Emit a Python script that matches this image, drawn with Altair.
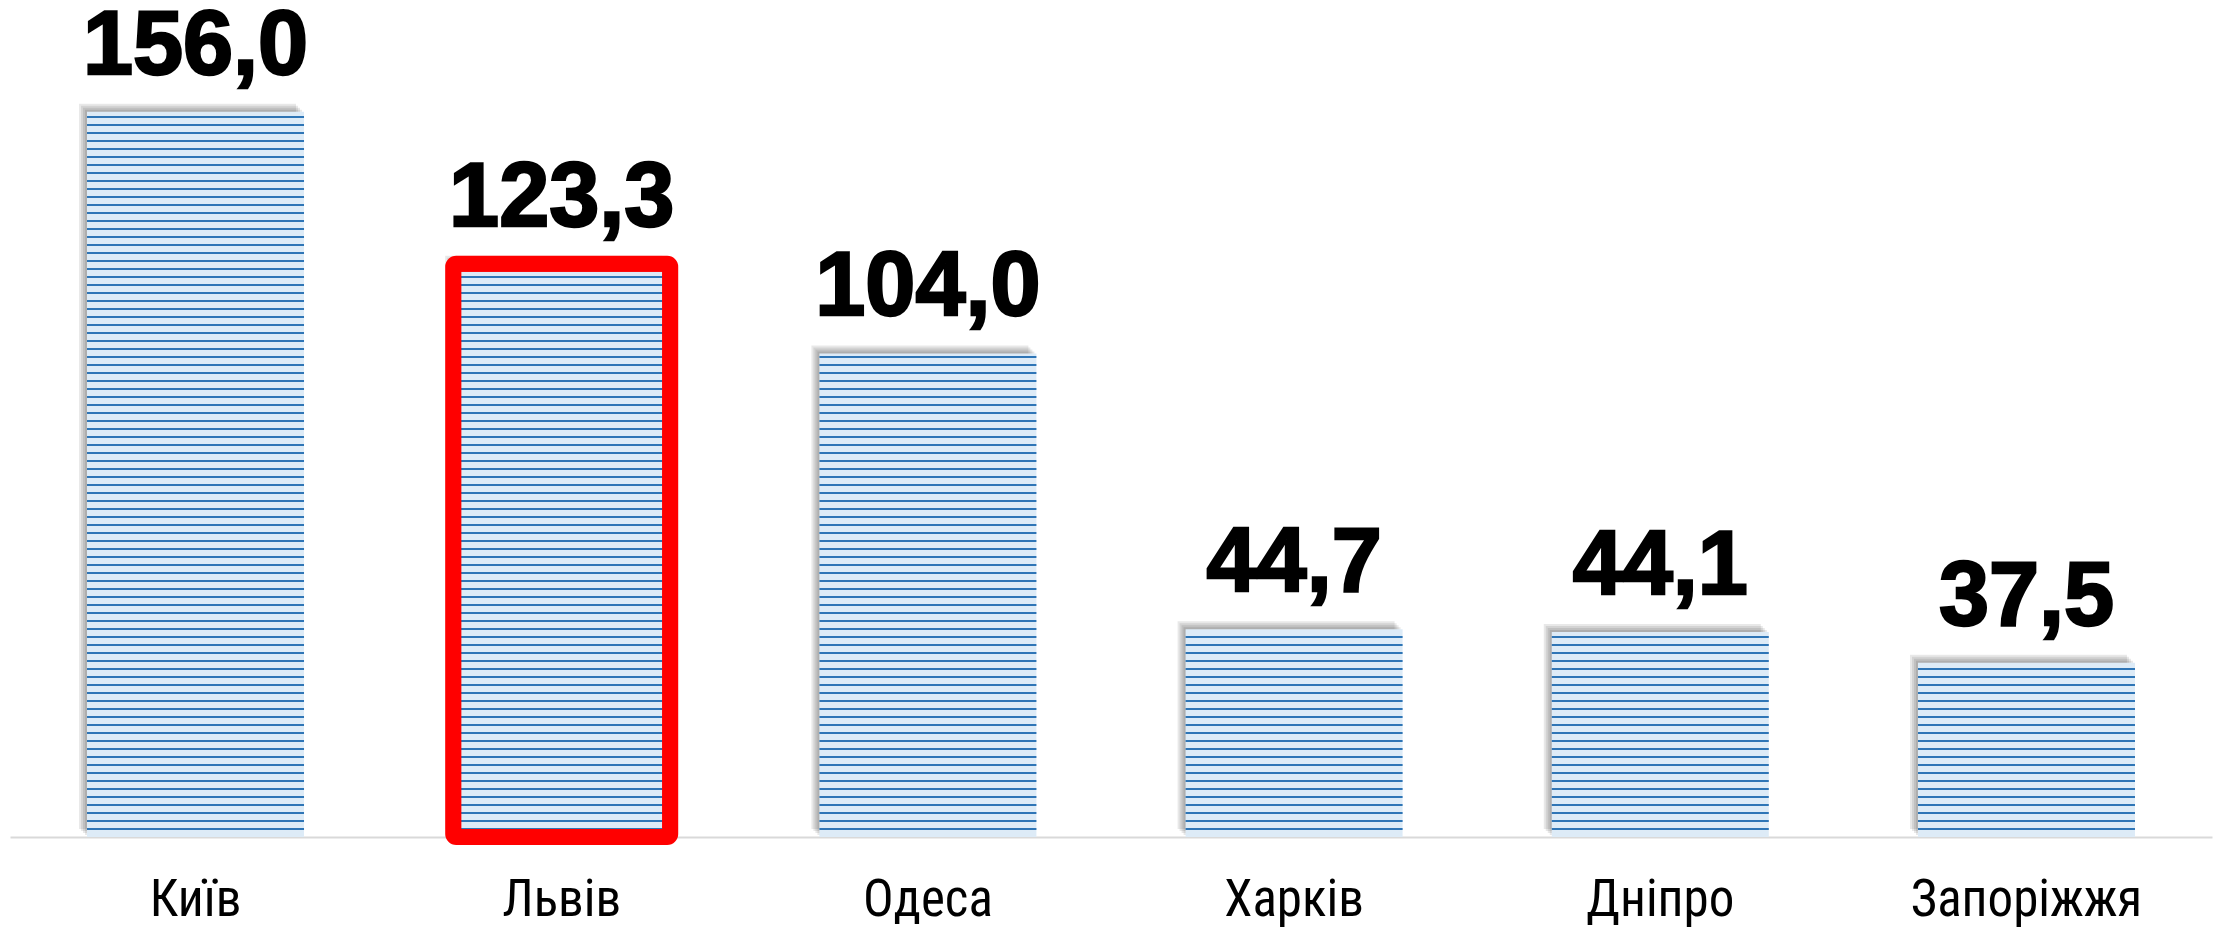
import altair as alt
import pandas as pd

cities = ["Київ", "Львів", "Одеса", "Харків", "Дніпро", "Запоріжжя"]
values = [156.0, 123.3, 104.0, 44.7, 44.1, 37.5]
highlight = "Львів"

df = pd.DataFrame({"city": cities, "value": values})

W, H = 2202, 829
Y_MAX = 178.3
PX = H / Y_MAX            # pixels per unit
STEP = 8 / PX             # stripe spacing in data units
HALF = 1.0 / PX           # half stripe thickness

LABEL_FONT = "'Roboto Condensed', 'DejaVu Sans Condensed', 'Liberation Sans Narrow', 'Noto Sans', sans-serif"

xs = alt.X("city:N", sort=cities, title=None,
           scale=alt.Scale(paddingInner=0.4074, paddingOuter=0.2103),
           axis=alt.Axis(labelAngle=0, ticks=False, tickSize=0, labelPadding=78,
                         labelBaseline="alphabetic", labelFont=LABEL_FONT, labelLimit=0,
                         labelFontSize=51, labelColor="#000000", domainColor="#d9d9d9",
                         domainWidth=2, grid=False))
ys = alt.Y("value:Q", title=None, scale=alt.Scale(domain=[0, Y_MAX], nice=False, zero=True),
           axis=None)

base = alt.Chart(df)

shadows = [
    base.mark_bar(color="#000000", opacity=0.09, xOffset=-d, yOffset=-d)
    .encode(x=xs, y=ys)
    for d in (2, 4, 6, 8)
]

fill = base.mark_bar(color="#ddebf7").encode(x=xs, y=ys)

stripes = (
    base.transform_calculate(k=f"sequence({STEP}, datum.value - 0.6, {STEP})")
    .transform_flatten(["k"])
    .transform_calculate(k1=f"datum.k - {HALF}", k2=f"datum.k + {HALF}")
    .mark_bar(color="#2e75b6")
    .encode(x=xs, y=alt.Y("k1:Q", scale=alt.Scale(domain=[0, Y_MAX], nice=False), axis=None),
            y2="k2:Q")
)

border = (
    base.transform_filter(alt.datum.city == highlight)
    .mark_bar(fillOpacity=0, stroke="#ff0000", strokeWidth=16, cornerRadius=3)
    .encode(x=xs, y=ys)
)

text = (
    base.transform_calculate(lbl="replace(format(datum.value, '.1f'), '.', ',')")
    .mark_text(font="Liberation Sans", fontWeight="bold", fontSize=90, color="#000000",
               stroke="#000000", strokeWidth=2.5, baseline="alphabetic", dy=-38)
    .encode(x=xs, y=ys, text="lbl:N")
)

chart = (
    alt.layer(*shadows, fill, stripes, border, text)
    .properties(width=W, height=H, background="#ffffff",
                autosize=alt.AutoSizeParams(type="none"),
                padding={"left": 2, "top": 0, "right": 4, "bottom": 92})
    .configure_view(strokeWidth=0, stroke="transparent")
)

chart.save("out.html", embed_options={"renderer": "svg", "actions": False})
